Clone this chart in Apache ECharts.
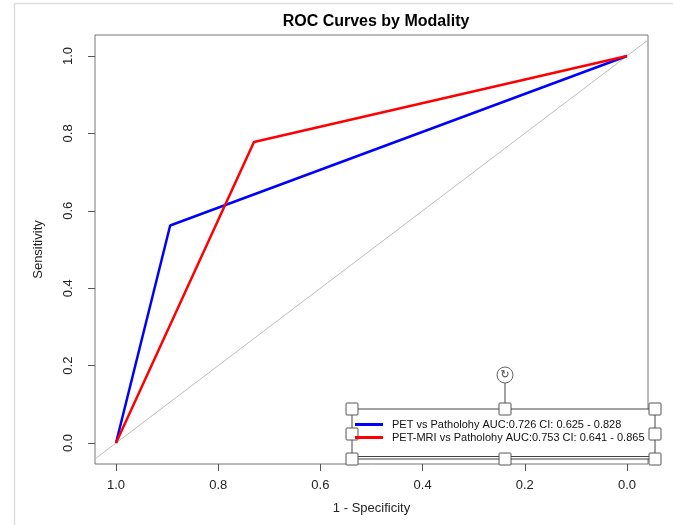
<!DOCTYPE html>
<html>
<head>
<meta charset="utf-8">
<script src="https://cdn.jsdelivr.net/npm/echarts@6/dist/echarts.min.js"></script>
<style>
  html, body {margin: 0; padding: 0; background: #fff;}
  #chart {width: 673px; height: 525px;}
</style>
</head>
<body>
<div id="chart"></div>
<script>
// ROC points (specificity, sensitivity), x axis runs 1 -> 0
var petSpec = [1.0, 0.894, 0.0];
var petSens = [0.0, 0.562, 1.0];
var mriSpec = [1.0, 0.730, 0.0];
var mriSens = [0.0, 0.778, 1.0];
var diagSpec = [1.041, -0.041];
var diagSens = [-0.041, 1.041];
var petName = 'PET vs Patholohy AUC:0.726 CI: 0.625 - 0.828';
var mriName = 'PET-MRI vs Patholohy AUC:0.753 CI: 0.641 - 0.865';

function pairs(xs, ys) {
  return xs.map(function (x, i) { return [x, ys[i]]; });
}

var myChart = echarts.init(document.getElementById('chart'));

// selection handles round the pasted legend box
var hx = [352, 505, 655];
var hy = [409, 434, 459];
var handles = [];
hx.forEach(function (x, i) {
  hy.forEach(function (y, j) {
    if (i === 1 && j === 1) return;
    handles.push({
      type: 'rect', z: 20,
      shape: {x: x - 6, y: y - 6, width: 12, height: 12, r: 1},
      style: {fill: '#fff', stroke: '#555', lineWidth: 1}
    });
  });
});

var tickFont = {fontFamily: 'Liberation Sans', fontSize: 13, color: '#222'};

myChart.setOption({
  backgroundColor: '#fff',
  animation: false,
  title: {
    text: 'ROC Curves by Modality',
    left: 371, top: 9, textAlign: 'center',
    textStyle: {fontFamily: 'Liberation Sans', fontWeight: 'bold', fontSize: 16, color: '#000'}
  },
  grid: [
    // data area 0..1, axes pushed out to the box
    {left: 116, right: 46, top: 56, bottom: 82},
    // the plot box, R's 4% extension
    {left: 95, right: 25, top: 35, bottom: 61, show: true, borderColor: '#777', borderWidth: 1, backgroundColor: 'transparent'}
  ],
  legend: {
    left: 350, top: 414, orient: 'vertical', itemGap: 2,
    itemWidth: 28, itemHeight: 3, z: 25,
    textStyle: {fontFamily: 'Liberation Sans', fontSize: 11, color: '#111', padding: [0, 0, 0, 4]},
    data: [{name: petName, icon: 'rect'}, {name: mriName, icon: 'rect'}]
  },
  xAxis: [{
    gridIndex: 0, type: 'value', inverse: true, min: 0, max: 1, interval: 0.2, offset: 21,
    name: '1 - Specificity', nameLocation: 'middle', nameGap: 38,
    nameTextStyle: tickFont,
    splitLine: {show: false},
    axisLine: {show: false, onZero: false},
    axisTick: {show: true, length: 7, lineStyle: {color: '#555'}},
    axisLabel: Object.assign({margin: 15, formatter: function (v) { return v.toFixed(1); }}, tickFont)
  }, {
    gridIndex: 1, type: 'value', show: false, inverse: true, min: -0.041, max: 1.041
  }],
  yAxis: [{
    gridIndex: 0, type: 'value', min: 0, max: 1, interval: 0.2, offset: 21,
    name: 'Sensitivity', nameLocation: 'middle', nameGap: 50, nameRotate: 90,
    nameTextStyle: tickFont,
    splitLine: {show: false},
    axisLine: {show: false, onZero: false},
    axisTick: {show: true, length: 7, lineStyle: {color: '#555'}},
    axisLabel: Object.assign({margin: 20, rotate: 90, formatter: function (v) { return v.toFixed(1); }}, tickFont)
  }, {
    gridIndex: 1, type: 'value', show: false, min: -0.054, max: 1.054
  }],
  series: [
    {
      name: 'diagonal', type: 'line', xAxisIndex: 1, yAxisIndex: 1,
      data: pairs(diagSpec, diagSens),
      symbol: 'none', silent: true, lineStyle: {color: '#bdbdbd', width: 1}
    },
    {
      name: petName, type: 'line', data: pairs(petSpec, petSens), clip: false,
      symbol: 'none', color: '#0000ff', lineStyle: {color: '#0000ff', width: 2.5}, z: 3
    },
    {
      name: mriName, type: 'line', data: pairs(mriSpec, mriSens), clip: false,
      symbol: 'none', color: '#ff0000', lineStyle: {color: '#ff0000', width: 2.5}, z: 4
    }
  ],
  graphic: [
    // faint frame of the screenshot
    {type: 'line', shape: {x1: 14.5, y1: 3.5, x2: 14.5, y2: 525}, style: {stroke: '#ddd', lineWidth: 1.5}, z: 1},
    {type: 'line', shape: {x1: 14.5, y1: 3.5, x2: 673, y2: 3.5}, style: {stroke: '#ddd', lineWidth: 1.5}, z: 1},
    // legend box
    {type: 'rect', z: 15, shape: {x: 352, y: 409, width: 303, height: 50}, style: {fill: '#fff', stroke: '#444', lineWidth: 1}},
    {type: 'line', z: 16, shape: {x1: 352, y1: 456.5, x2: 655, y2: 456.5}, style: {stroke: '#444', lineWidth: 1}},
    // rotate handle
    {type: 'line', z: 16, shape: {x1: 505, y1: 383, x2: 505, y2: 403}, style: {stroke: '#444', lineWidth: 1}},
    {type: 'circle', z: 20, shape: {cx: 505, cy: 375, r: 8}, style: {fill: '#fff', stroke: '#666', lineWidth: 1}},
    {type: 'text', z: 21, x: 505, y: 375, style: {text: '\u21bb', fontFamily: 'DejaVu Sans', fontSize: 11, fill: '#444', align: 'center', verticalAlign: 'middle'}}
  ].concat(handles)
});
</script>
</body>
</html>
